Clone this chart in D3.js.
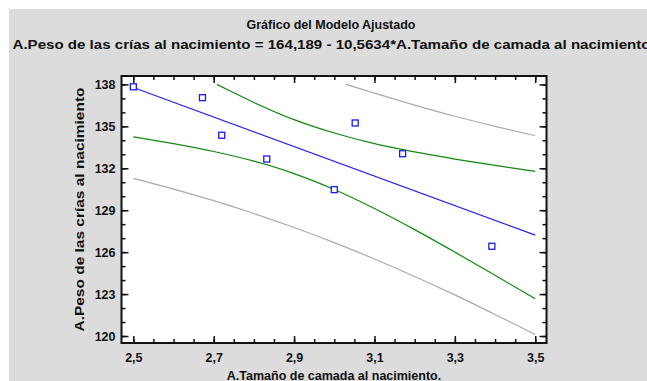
<!DOCTYPE html>
<html>
<head>
<meta charset="utf-8">
<script src="https://cdn.jsdelivr.net/npm/d3@7"></script>
<style>
  body { margin: 0; background: #fff; }
  text { font-family: "Liberation Sans", Arial, sans-serif; font-weight: bold; fill: #111; }
</style>
</head>
<body>
<div id="chart-area"></div>
<script>
// observed points
var camada = [2.5, 2.672, 2.72, 2.832, 3.0, 3.052, 3.17, 3.392];
var peso   = [137.83, 137.05, 134.36, 132.66, 130.47, 135.24, 133.04, 126.42];

// fitted line (164,189 - 10,5634*x)
var fitX = [2.5, 3.5];
var fitY = [137.78, 127.22];

// confidence limits for the mean (green)
var ciUpX = [2.708, 2.75, 2.8, 2.9, 3.0, 3.1, 3.2, 3.3, 3.4, 3.5];
var ciUpY = [138.0, 137.40, 136.71, 135.48, 134.52, 133.76, 133.17, 132.66, 132.20, 131.78];
var ciLoX = [2.5, 2.6, 2.7, 2.8, 2.9, 3.0, 3.1, 3.2, 3.3, 3.4, 3.5];
var ciLoY = [134.25, 133.76, 133.20, 132.51, 131.62, 130.48, 129.12, 127.61, 126.00, 124.34, 122.66];

// prediction limits (gray)
var piUpX = [3.029, 3.1, 3.2, 3.3, 3.4, 3.5];
var piUpY = [138.0, 137.37, 136.52, 135.72, 135.00, 134.33];
var piLoX = [2.5, 2.6, 2.7, 2.8, 2.9, 3.0, 3.1, 3.2, 3.3, 3.4, 3.5];
var piLoY = [131.28, 130.51, 129.68, 128.76, 127.76, 126.68, 125.51, 124.26, 122.94, 121.54, 120.11];

var xTicks = [2.5, 2.7, 2.9, 3.1, 3.3, 3.5];
var yTicks = [120, 123, 126, 129, 132, 135, 138];

var titulo = "Gráfico del Modelo Ajustado";
var ecuacion = "A.Peso de las crías al nacimiento = 164,189 - 10,5634*A.Tamaño de camada al nacimiento";
var xLabel = "A.Tamaño de camada al nacimiento.";
var yLabel = "A.Peso de las crías al nacimiento";

var W = 647, H = 381;
var pLeft = 121.5, pRight = 546.5, pTop = 76, pBottom = 343;

var svg = d3.select("#chart-area")
    .append("svg")
        .attr("width", W)
        .attr("height", H);

// gray panel
svg.append("rect")
    .attr("x", 9).attr("y", 9)
    .attr("width", W - 9).attr("height", H - 9)
    .attr("fill", "#dcdcdc");

svg.append("rect")
    .attr("x", pLeft).attr("y", pTop)
    .attr("width", pRight - pLeft).attr("height", pBottom - pTop)
    .attr("fill", "#fff");

var x = d3.scaleLinear()
    .domain([2.4706, 3.528])
    .range([pLeft, pRight]);

var y = d3.scaleLinear()
    .domain([119.5, 138.6])
    .range([pBottom, pTop]);

var fmt = function(d) { return d3.format(".1f")(d).replace(".", ","); };

// minor ticks first, then major ticks with labels
var xMinor = d3.range(2.5, 3.5001, 0.05);
var yMinor = d3.range(120, 138.001, 1);

function styleAxis(g) {
    g.select(".domain").remove();
    g.selectAll("line").attr("stroke", "#111").attr("stroke-width", 1.5);
    g.selectAll("text").style("font-size", "12.5px").attr("fill", "#111");
}

svg.append("g").attr("transform", "translate(0," + pBottom + ")")
    .call(d3.axisBottom(x).tickValues(xMinor).tickSize(-4).tickFormat(""))
    .call(styleAxis);
svg.append("g").attr("transform", "translate(0," + pTop + ")")
    .call(d3.axisTop(x).tickValues(xMinor).tickSize(-4).tickFormat(""))
    .call(styleAxis);
svg.append("g").attr("transform", "translate(" + pLeft + ",0)")
    .call(d3.axisLeft(y).tickValues(yMinor).tickSize(-4).tickFormat(""))
    .call(styleAxis);
svg.append("g").attr("transform", "translate(" + pRight + ",0)")
    .call(d3.axisRight(y).tickValues(yMinor).tickSize(-4).tickFormat(""))
    .call(styleAxis);

svg.append("g").attr("transform", "translate(0," + pBottom + ")")
    .call(d3.axisBottom(x).tickValues(xTicks).tickSize(-7).tickPadding(10).tickFormat(fmt))
    .call(styleAxis);
svg.append("g").attr("transform", "translate(0," + pTop + ")")
    .call(d3.axisTop(x).tickValues(xTicks).tickSize(-7).tickFormat(""))
    .call(styleAxis);
svg.append("g").attr("transform", "translate(" + pLeft + ",0)")
    .call(d3.axisLeft(y).tickValues(yTicks).tickSize(-7).tickPadding(6).tickFormat(d3.format("d")))
    .call(styleAxis);
svg.append("g").attr("transform", "translate(" + pRight + ",0)")
    .call(d3.axisRight(y).tickValues(yTicks).tickSize(-7).tickFormat(""))
    .call(styleAxis);

// frame
svg.append("rect")
    .attr("x", pLeft).attr("y", pTop)
    .attr("width", pRight - pLeft).attr("height", pBottom - pTop)
    .attr("fill", "none")
    .attr("stroke", "#111")
    .attr("stroke-width", 2);

var line = d3.line()
    .x(function(d) { return x(d[0]); })
    .y(function(d) { return y(d[1]); })
    .curve(d3.curveMonotoneX);

function drawCurve(xs, ys, color) {
    svg.append("path")
        .datum(d3.zip(xs, ys))
        .attr("d", line)
        .attr("fill", "none")
        .attr("stroke", color)
        .attr("stroke-width", 1.2);
}

drawCurve(piUpX, piUpY, "#aaaaaa");
drawCurve(piLoX, piLoY, "#aaaaaa");
drawCurve(ciUpX, ciUpY, "#118811");
drawCurve(ciLoX, ciLoY, "#118811");
drawCurve(fitX, fitY, "#2222ee");

svg.selectAll("rect.pt")
        .data(d3.zip(camada, peso))
    .enter()
        .append("rect")
        .attr("class", "pt")
        .attr("x", function(d) { return x(d[0]) - 3; })
        .attr("y", function(d) { return y(d[1]) - 3; })
        .attr("width", 6)
        .attr("height", 6)
        .attr("fill", "#fff")
        .attr("stroke", "#1a1aee")
        .attr("stroke-width", 1.3);

// titles
svg.append("text")
    .attr("x", 331).attr("y", 29)
    .attr("text-anchor", "middle")
    .style("font-size", "12.5px")
    .text(titulo);

svg.append("text")
    .attr("x", 12.5).attr("y", 49)
    .attr("textLength", 638)
    .attr("lengthAdjust", "spacingAndGlyphs")
    .style("font-size", "12.5px")
    .text(ecuacion);

svg.append("text")
    .attr("x", (pLeft + pRight) / 2).attr("y", 380)
    .attr("text-anchor", "middle")
    .style("font-size", "12.5px")
    .text(xLabel);

svg.append("text")
    .attr("transform", "translate(84," + (pTop + pBottom) / 2 + ") rotate(-90)")
    .attr("text-anchor", "middle")
    .attr("x", 0)
    .attr("textLength", 244)
    .attr("lengthAdjust", "spacingAndGlyphs")
    .style("font-size", "13px")
    .text(yLabel);
</script>
</body>
</html>
